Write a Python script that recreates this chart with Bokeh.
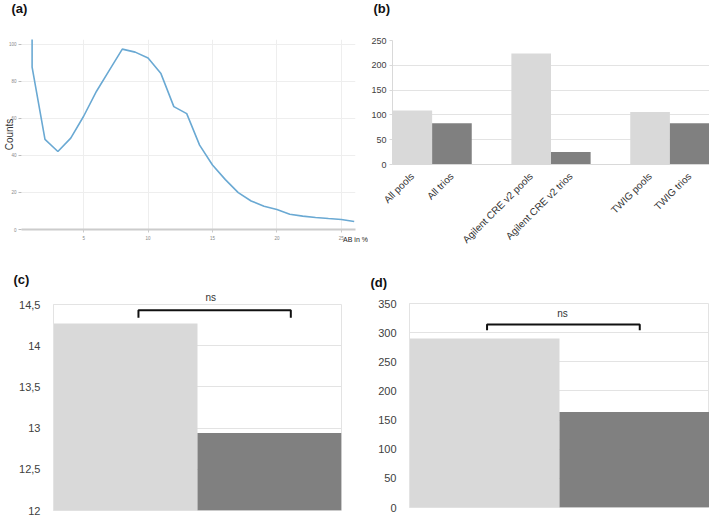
from math import pi
from bokeh.plotting import figure
from bokeh.layouts import row, column
from bokeh.models import Range1d, FixedTicker, Label, Title, CustomJSTickFormatter
from bokeh.embed import file_html
from bokeh.resources import INLINE

FONT = "Liberation Sans"
LIGHT = "#d9d9d9"
DARK = "#808080"
GRID = "#e3e3e3"
TXT = "#404040"

# ---------------- data ----------------
# (a) allele balance distribution
ab_pct = [1, 1, 2, 3, 4, 5, 6, 7, 8, 9, 10, 11, 12, 13, 14, 15, 16, 17, 18, 19, 20, 21, 22, 23, 24, 25, 26]
ab_counts = [120, 87.6, 48.6, 42.1, 49.3, 61.1, 74.6, 86.0, 97.3, 95.7, 92.5, 84.1, 66.3, 62.5,
             45.5, 34.8, 26.9, 19.9, 15.4, 12.5, 10.8, 8.2, 7.2, 6.5, 5.9, 5.4, 4.3]
a_yticks = [0, 20, 40, 60, 80, 100]
a_xticks = [5, 10, 15, 20, 25]

# (b) grouped bars
b_labels = ["All pools", "All trios", "Agilent CRE v2 pools", "Agilent CRE v2 trios", "TWIG pools", "TWIG trios"]
b_group = [0, 0, 1, 1, 2, 2]
b_member = [0, 1, 0, 1, 0, 1]   # 0 = pools, 1 = trios
b_values = [109, 83, 224, 25, 106, 83]
b_yticks = [0, 50, 100, 150, 200, 250]

# (c) and (d): pools vs trios
c_values = [14.27, 12.94]
c_yticks = [12, 12.5, 13, 13.5, 14, 14.5]
c_bracket = [0.59, 1.648, 14.43, 14.34]   # x0, x1, y, tick end

d_values = [290, 164]
d_yticks = [0, 50, 100, 150, 200, 250, 300, 350]
d_bracket = [0.517, 1.535, 314, 304]
d_ns = [1.02, 332]

bar_colors = [LIGHT, DARK]


def base(width, height, xr, yr, ml, mr, mt, mb):
    p = figure(width=width, height=height, x_range=xr, y_range=yr,
               output_backend="svg", toolbar_location=None,
               min_border_left=ml, min_border_right=mr, min_border_top=mt, min_border_bottom=mb)
    if "frame_align" in p.properties():
        p.frame_align = False
    p.background_fill_color = "white"
    p.border_fill_color = "white"
    p.outline_line_color = None
    for ax in (p.xaxis, p.yaxis):
        ax.minor_tick_line_color = None
        ax.major_label_text_font = FONT
    return p


def spacer(p, standoff):
    # empty-looking block between the frame and the panel letter
    p.add_layout(Title(text=" ", text_font_size="1px", standoff=standoff), "above")


def panel_title(p, text, offset):
    p.add_layout(Title(text=text, align="left", offset=offset, standoff=0, vertical_align="top",
                       text_font=FONT, text_font_style="bold", text_font_size="13px",
                       text_color="#111111"), "above")


# ---------------- (a) ----------------
pa = base(368, 255, Range1d(0.177, 26.1), Range1d(0, 102.5), 18, 13, 38, 26)
pa.line(ab_pct, ab_counts, line_color="#6aa9d3", line_width=1.6)
pa.yaxis.ticker = FixedTicker(ticks=a_yticks)
pa.xaxis.ticker = FixedTicker(ticks=a_xticks)
pa.yaxis.axis_line_color = None
pa.yaxis.major_tick_line_color = "#bbbbbb"
pa.yaxis.major_tick_out = 3
pa.yaxis.major_tick_in = 0
pa.yaxis.major_label_standoff = 2
pa.xaxis.axis_line_color = "#cccccc"
pa.xaxis.axis_line_width = 2
pa.xaxis.major_tick_line_color = "#cccccc"
pa.xaxis.major_tick_out = 3
pa.xaxis.major_tick_in = 0
pa.xaxis.major_label_standoff = 3
for ax in (pa.xaxis, pa.yaxis):
    ax.major_label_text_font_size = "4.5px"
    ax.major_label_text_color = "#888888"
pa.xgrid.grid_line_color = "#eeeeee"
pa.ygrid.grid_line_color = "#eeeeee"
pa.yaxis.axis_label = "Counts"
pa.yaxis.axis_label_text_font = FONT
pa.yaxis.axis_label_text_font_style = "normal"
pa.yaxis.axis_label_text_font_size = "10px"
pa.yaxis.axis_label_text_color = "#333333"
pa.yaxis.axis_label_standoff = -9
pa.xaxis.axis_label = "AB in %"
pa.xaxis.axis_label_text_font = FONT
pa.xaxis.axis_label_text_font_style = "normal"
pa.xaxis.axis_label_text_font_size = "7px"
pa.xaxis.axis_label_text_color = "#222222"
pa.xaxis.axis_label_standoff = -7
if "axis_label_align" in pa.xaxis[0].properties():
    pa.xaxis.axis_label_align = "end"
pa.xaxis.axis_label_text_align = "center"
spacer(pa, 19)
panel_title(pa, "(a)", -10)

# ---------------- (b) ----------------
b_x = [g * 3 + m + 0.5 for g, m in zip(b_group, b_member)]
b_col = [bar_colors[m] for m in b_member]
pb = base(341, 255, Range1d(0, 8), Range1d(0, 250), 21, 0, 39, 91)
pb.vbar(x=b_x, top=b_values, width=1, bottom=0, fill_color=b_col, line_color=None)
pb.yaxis.ticker = FixedTicker(ticks=b_yticks)
pb.xaxis.ticker = FixedTicker(ticks=b_x)
pb.xaxis.major_label_overrides = {x: lab for x, lab in zip(b_x, b_labels)}
pb.xaxis.major_label_orientation = pi / 4
pb.xaxis.major_label_text_font_size = "10px"
pb.xaxis.major_label_text_color = "#333333"
pb.xaxis.major_label_standoff = 4
pb.xaxis.major_tick_line_color = None
pb.xaxis.axis_line_color = LIGHT
pb.yaxis.axis_line_color = LIGHT
pb.yaxis.major_tick_line_color = LIGHT
pb.yaxis.major_tick_out = 3
pb.yaxis.major_tick_in = 0
pb.yaxis.major_label_standoff = 3
pb.yaxis.major_label_text_font_size = "9px"
pb.yaxis.major_label_text_color = TXT
pb.xgrid.grid_line_color = None
pb.ygrid.grid_line_color = GRID
spacer(pb, 20)
panel_title(pb, "(b)", -19)

comma_fmt = CustomJSTickFormatter(code="return tick.toString().replace('.', ',');")


def two_bar(width, height, values, yr, yticks, bracket, ml, mr, mt, mb):
    p = base(width, height, Range1d(0, 2), yr, ml, mr, mt, mb)
    xs = [i + 0.5 for i in range(len(values))]
    p.vbar(x=xs, top=values, bottom=0, width=1, fill_color=bar_colors, line_color=None)
    p.xaxis.visible = False
    p.xgrid.grid_line_color = None
    p.ygrid.grid_line_color = GRID
    p.outline_line_color = GRID
    p.yaxis.ticker = FixedTicker(ticks=yticks)
    p.yaxis.formatter = comma_fmt
    p.yaxis.axis_line_color = GRID
    p.yaxis.major_tick_line_color = None
    p.yaxis.major_label_standoff = 7
    p.yaxis.major_label_text_font_size = "11px"
    p.yaxis.major_label_text_color = TXT
    x0, x1, yb, yt = bracket
    p.line([x0, x0, x1, x1], [yt, yb, yb, yt], line_color="#111111", line_width=2)
    return p


# ---------------- (c) ----------------
pc = two_bar(364, 276, c_values, Range1d(12, 14.5), c_yticks, c_bracket, 53, 23, 49, 21)
pc.add_layout(Title(text="ns", align="left", offset=152, standoff=0, vertical_align="top",
                    text_font=FONT, text_font_style="normal", text_font_size="10px",
                    text_color="#333333"), "above")
spacer(pc, 0)
panel_title(pc, "(c)", -40)

# ---------------- (d) ----------------
pd = two_bar(345, 276, d_values, Range1d(0, 350), d_yticks, d_bracket, 45, 0, 48, 24)
pd.add_layout(Label(x=d_ns[0], y=d_ns[1], text="ns", text_font=FONT, text_font_size="10px",
                    text_color="#333333", text_align="center", text_baseline="middle"))
spacer(pd, 9)
panel_title(pd, "(d)", -39)

layout = column(row(pa, pb), row(pc, pd))
open("out.html", "w").write(file_html(layout, INLINE))
